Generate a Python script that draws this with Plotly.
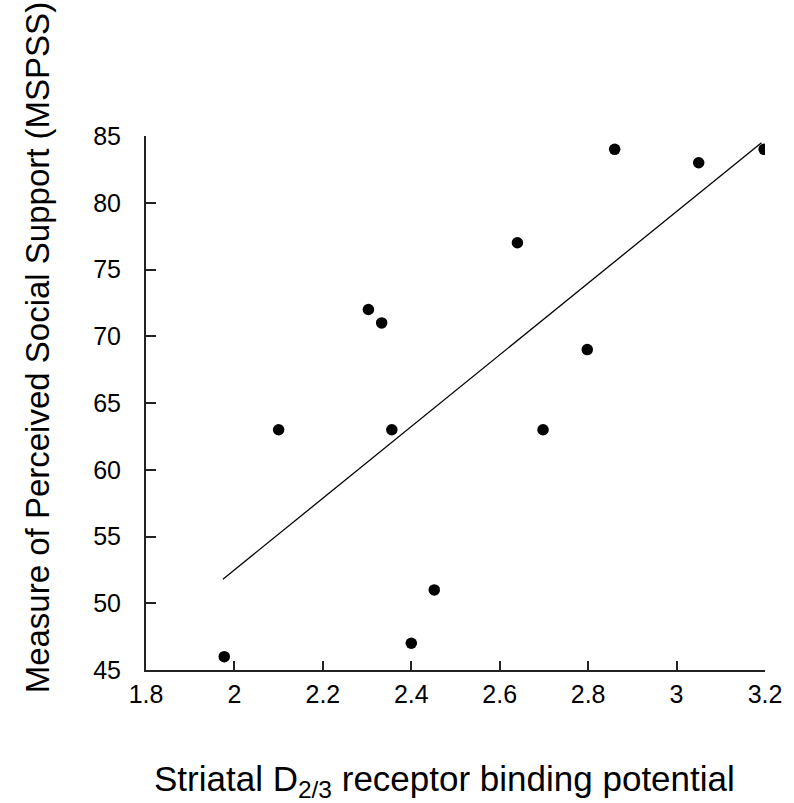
import plotly.graph_objects as go

# Data
binding_potential = [1.977, 2.100, 2.303, 2.333, 2.356, 2.400, 2.452, 2.640, 2.698, 2.798, 2.860, 3.050, 3.198]
mspss = [46, 63, 72, 71, 63, 47, 51, 77, 63, 69, 84, 83, 84]

fit_x = [1.974, 3.192]
fit_y = [51.8, 84.5]

x_ticks = [1.8, 2.0, 2.2, 2.4, 2.6, 2.8, 3.0, 3.2]
x_ticklabels = ["1.8", "2", "2.2", "2.4", "2.6", "2.8", "3", "3.2"]
y_ticks = [45, 50, 55, 60, 65, 70, 75, 80, 85]

x_title = "Striatal D<sub>2/3</sub> receptor binding potential"
y_title = "Measure of Perceived Social Support (MSPSS)"

W, H = 794, 803
ML, MR, MT, MB = 146, 27, 136, 133
PW, PH = W - ML - MR, H - MT - MB


def px_to_paper(px, py):
    return (px - ML) / PW, ((H - MB) - py) / PH


fig = go.Figure()
fig.add_trace(go.Scatter(x=fit_x, y=fit_y, mode="lines",
                         line=dict(color="black", width=1.3), showlegend=False))
fig.add_trace(go.Scatter(x=binding_potential, y=mspss, mode="markers",
                         marker=dict(color="black", size=11.5, symbol="circle"),
                         showlegend=False))

ytitle_font = dict(family="Liberation Sans, Arial, Helvetica", size=33, color="black")
xtitle_font = dict(family="Liberation Sans, Arial, Helvetica", size=35, color="black")
tick_font = dict(family="Liberation Sans, Arial, Helvetica", size=25, color="black")

xt_x, xt_y = px_to_paper(445, 781)
yt_x, yt_y = px_to_paper(37, 348)

fig.update_layout(
    width=W, height=H,
    margin=dict(l=ML, r=MR, t=MT, b=MB),
    paper_bgcolor="white", plot_bgcolor="white",
    xaxis=dict(range=[1.8, 3.2], tickvals=x_ticks, ticktext=x_ticklabels,
               showgrid=False, zeroline=False, showline=True, linecolor="#222",
               linewidth=2, ticks="inside", ticklen=9, tickwidth=1.5, tickcolor="#222",
               tickfont=tick_font, ticklabelstandoff=1),
    yaxis=dict(range=[45, 85], tickvals=y_ticks,
               showgrid=False, zeroline=False, showline=True, linecolor="#222",
               linewidth=2, ticks="inside", ticklen=10, tickwidth=1.5, tickcolor="#222",
               tickfont=tick_font, ticklabelstandoff=18),
    annotations=[
        dict(text=x_title, xref="paper", yref="paper", x=xt_x, y=xt_y,
             xanchor="center", yanchor="middle", showarrow=False, font=xtitle_font),
        dict(text=y_title, xref="paper", yref="paper", textangle=-90,
             x=yt_x, y=yt_y, xanchor="center", yanchor="middle",
             showarrow=False, font=ytitle_font),
    ],
)

fig.write_html("out.html")
